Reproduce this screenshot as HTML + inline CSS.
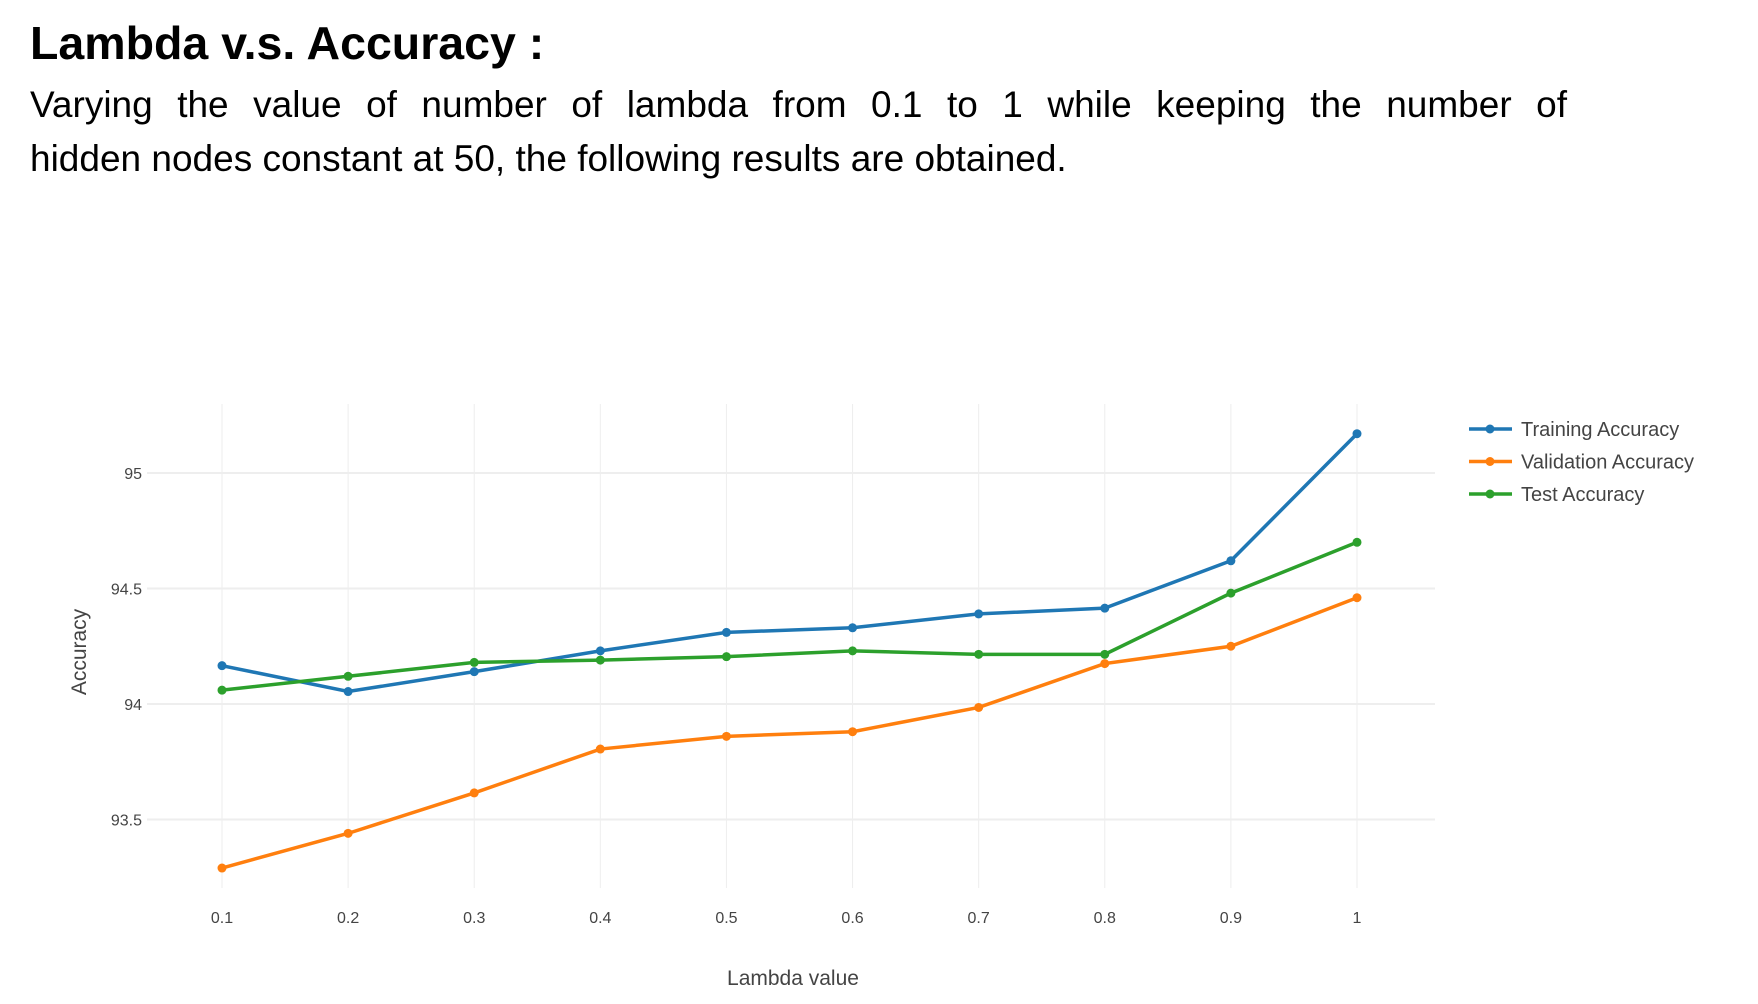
<!DOCTYPE html>
<html><head><meta charset="utf-8"><style>
body{margin:0;width:1758px;height:1004px;background:#fff;overflow:hidden;position:relative;font-family:"Liberation Sans",Arial,sans-serif}
h1{position:absolute;left:30px;top:16px;margin:0;font-size:46.5px;font-weight:bold;color:#000}
p{position:absolute;left:30px;top:78px;width:1537px;margin:0;font-size:37px;line-height:54px;color:#000}
p span{display:block;text-align:justify;text-align-last:justify}
svg{position:absolute;left:0;top:0}
</style></head><body>
<h1>Lambda v.s. Accuracy :</h1>
<p><span>Varying the value of number of lambda from 0.1 to 1 while keeping the number of</span>hidden nodes constant at 50, the following results are obtained.</p>
<svg id="chart" width="1758" height="1004"></svg>
<script>
const categories=[0.1,0.2,0.3,0.4,0.5,0.6,0.7,0.8,0.9,1];
const xTickLabels=["0.1","0.2","0.3","0.4","0.5","0.6","0.7","0.8","0.9","1"];
const yTicks=[93.5,94,94.5,95];
const yTickLabels=["93.5","94","94.5","95"];
const trainingAcc=[94.166,94.054,94.14,94.23,94.31,94.33,94.39,94.415,94.62,95.17];
const validationAcc=[93.29,93.44,93.615,93.805,93.86,93.88,93.985,94.175,94.25,94.46];
const testAcc=[94.06,94.12,94.18,94.19,94.205,94.23,94.215,94.215,94.48,94.70];
const seriesNames=["Training Accuracy","Validation Accuracy","Test Accuracy"];
const colors=["#1f77b4","#ff7f0e","#2ca02c"];
const NS="http://www.w3.org/2000/svg";
const svg=document.getElementById('chart');
const X=v=>222+(v-0.1)/0.9*(1357-222);
const Y=v=>704-(v-94)*231;
function mk(t,a,p){const e=document.createElementNS(NS,t);for(const k in a)e.setAttribute(k,a[k]);(p||svg).appendChild(e);return e;}
categories.forEach((c,i)=>{
  const g=mk('line',{x1:X(c),x2:X(c),y1:404,y2:888,stroke:'#eee','stroke-width':1});
  
  
  const t=mk('text',{x:X(c),y:923,'text-anchor':'middle','font-size':16,fill:'#444'});
  t.textContent=xTickLabels[i];
  
  
});
yTicks.forEach((v,i)=>{
  const g=mk('line',{x1:147,x2:1435,y1:Y(v),y2:Y(v),stroke:'#eee','stroke-width':2});
  
  
  const t=mk('text',{x:142,y:Y(v)+6,'text-anchor':'end','font-size':16,fill:'#444'});
  t.textContent=yTickLabels[i];
  
  
});
const xt=mk('text',{x:793,y:985,'text-anchor':'middle','font-size':21,fill:'#444'});
xt.textContent='Lambda value';


const yt=mk('text',{x:0,y:0,transform:'translate(86,652) rotate(-90)','text-anchor':'middle','font-size':21,fill:'#444'});
yt.textContent='Accuracy';


[trainingAcc,validationAcc,testAcc].forEach((s,k)=>{
  const pl=mk('polyline',{points:s.map((v,i)=>X(categories[i])+','+Y(v)).join(' '),fill:'none',stroke:colors[k],'stroke-width':3.5});
  
  
  s.forEach((v,i)=>{
    const c=mk('circle',{cx:X(categories[i]),cy:Y(v),r:4.5,fill:colors[k]});
    
    
  });
  const ly=429+k*32.5;
  const ll=mk('line',{x1:1469,x2:1512,y1:ly,y2:ly,stroke:colors[k],'stroke-width':3.5});
  
  
  const lc=mk('circle',{cx:1490,cy:ly,r:4.5,fill:colors[k]});
  
  
  const lt=mk('text',{x:1521,y:ly+7,'font-size':20,fill:'#444'});
  lt.textContent=seriesNames[k];
  
  
});
const clip=mk('rect',{x:1701,y:410,width:57,height:100,fill:'#fff'});


</script>
</body></html>
